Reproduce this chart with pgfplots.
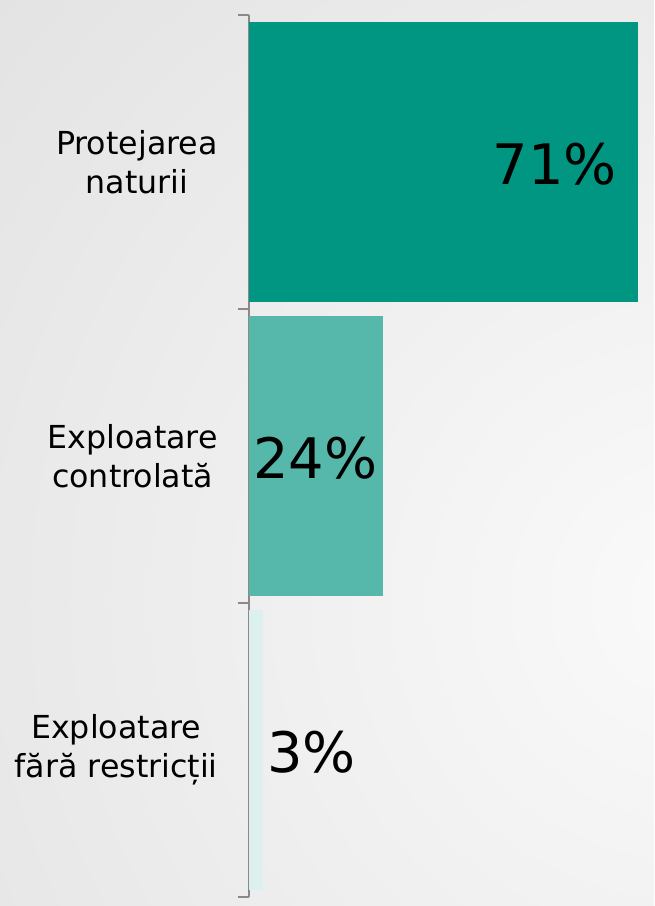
\documentclass[border=0pt]{standalone}
\usepackage{fontspec}
\setmainfont{DejaVu Sans}
\usepackage{pgfplots}
\pgfplotsset{compat=1.18}

\definecolor{barA}{HTML}{009681}
\definecolor{barB}{HTML}{55B8AA}
\definecolor{barC}{HTML}{DCF1EE}
\definecolor{axgray}{HTML}{8A8A8A}
\definecolor{bgin}{HTML}{FAFAFA}
\definecolor{bgout}{HTML}{C8C8C8}

\pgfdeclareradialshading{bgshade}{\pgfpoint{0bp}{0bp}}{color(0bp)=(bgin); color(50bp)=(bgout)}

\begin{document}
\begin{tikzpicture}
% background, 1px = 0.6pt
\begin{scope}[x=0.6pt, y=-0.6pt]
  \path[use as bounding box] (0,0) rectangle (654,906);
  \fill[bgout] (0,0) rectangle (654,906);
  \clip (0,0) rectangle (654,906);
  \shade[shading=bgshade] (690,600) circle (1000);
\end{scope}

\begin{axis}[
    at={(149.4pt,-538.2pt)}, anchor=south west,
    scale only axis,
    width=243pt, height=529.2pt,
    xmin=0, xmax=74,
    ymin=-0.5, ymax=2.5,
    xbar, bar shift=0pt, bar width=0.952,
    axis x line=none,
    axis y line*=left,
    y axis line style={axgray, line width=1.4pt},
    ytick={0,1,2},
    yticklabels={{Exploatare\\fără restricții},{Exploatare\\controlată},{Protejarea\\naturii}},
    minor ytick={-0.5,0.5,1.5,2.5},
    major tick length=0pt,
    minor tick length=6.6pt,
    tick align=outside,
    minor tick style={axgray, line width=1.4pt},
    yticklabel style={align=center, inner sep=0pt, xshift=-18.6pt,
        font=\fontsize{19}{23.4}\selectfont},
    clip=false,
]
\addplot[fill=barA, draw=none] coordinates {(71,2)};
\addplot[fill=barB, draw=none] coordinates {(24.4,1)};
\addplot[fill=barC, draw=none] coordinates {(2.6,0)};

\node[anchor=base east, inner sep=0pt, font=\fontsize{33.5}{40}\selectfont] at (axis cs:67.3,1.925) {71\%};
\node[anchor=base west, inner sep=0pt, font=\fontsize{33.5}{40}\selectfont] at (axis cs:0.73,0.925) {24\%};
\node[anchor=base west, inner sep=0pt, font=\fontsize{33.5}{40}\selectfont] at (axis cs:3.3,-0.075) {3\%};
\end{axis}
\end{tikzpicture}
\end{document}
